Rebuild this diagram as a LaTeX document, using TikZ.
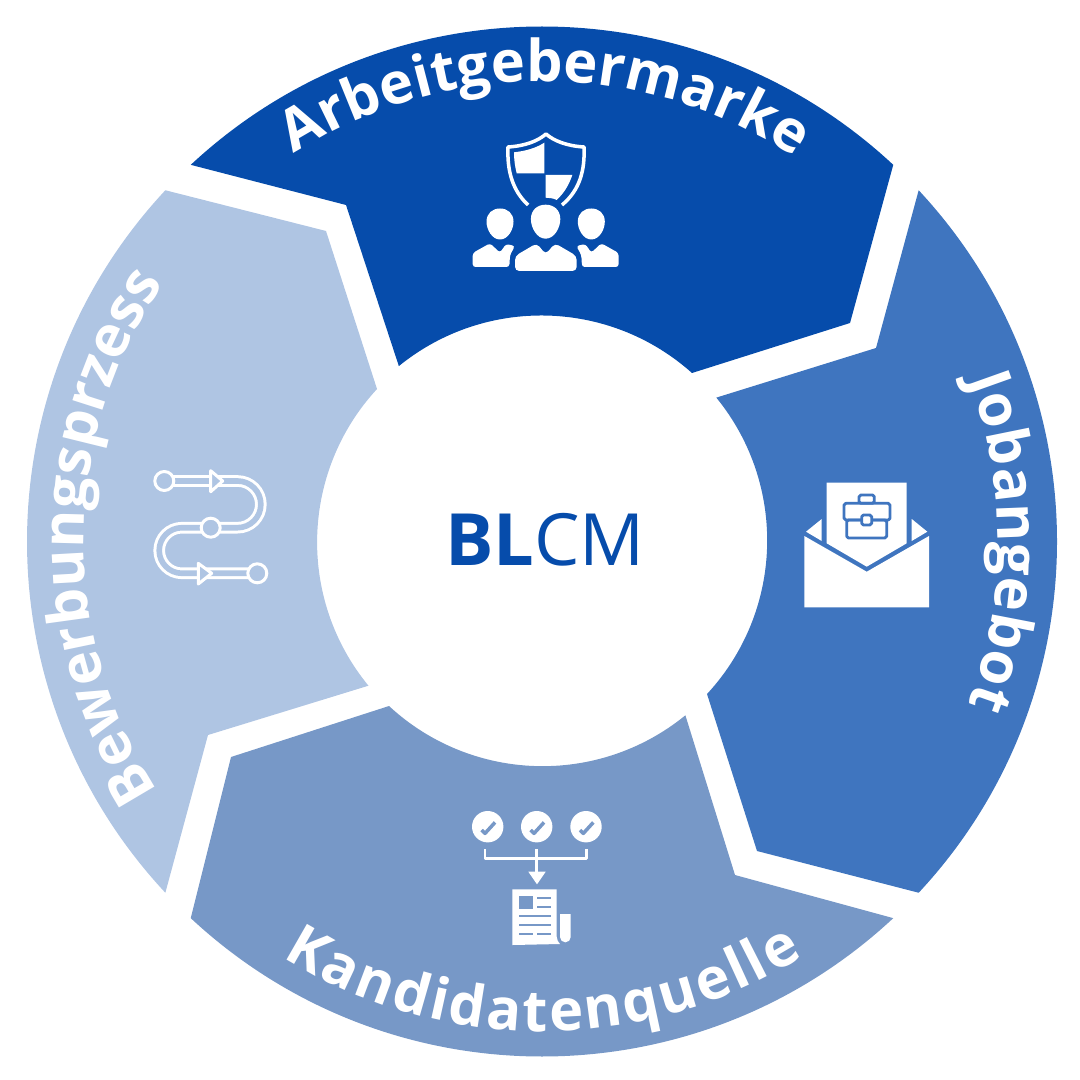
\documentclass[tikz,border=0pt]{standalone}
\usepackage{fontspec}
\setmainfont{Open Sans}
\usetikzlibrary{decorations.text}
\definecolor{segtop}{HTML}{064CAB}
\definecolor{segright}{HTML}{3F75BF}
\definecolor{segbottom}{HTML}{7798C7}
\definecolor{segleft}{HTML}{AFC5E3}
\newcommand{\ringfont}{\bfseries\fontsize{16.4}{20}\selectfont}
\begin{document}
\begin{tikzpicture}
[x=0.01cm, y=-0.01cm, line join=round,
ringlabel/.style={decorate, decoration={text along path, text align=fit to path, text color=white, text={|\ringfont|#1}}}
]
  \useasboundingbox (0,0) rectangle (1080,1080);
  \coordinate (c) at (542,541.5);

  \fill[segtop] (c) ++(-133:515) arc[start angle=-133, end angle=-47, radius=515]
    -- (850,323) -- (692,373) arc[start angle=-48.2, end angle=-129.1, radius=226] -- (346,205) -- cycle;
  \fill[segright] (c) ++(-43:515) arc[start angle=-43, end angle=43, radius=515]
    -- (757,851) -- (707,694) arc[start angle=42.8, end angle=-39.2, radius=226] -- (876,348) -- cycle;
  \fill[segbottom] (c) ++(47:515) arc[start angle=47, end angle=133, radius=515]
    -- (231,757) -- (389,706) arc[start angle=132.8, end angle=50.8, radius=226] -- (735,875) -- cycle;
  \fill[segleft] (c) ++(137:515) arc[start angle=137, end angle=223, radius=515]
    -- (326,231) -- (377,389) arc[start angle=222.7, end angle=140.6, radius=226] -- (208,735) -- cycle;

  \node[text=segtop, font=\fontsize{20.5}{24}\selectfont] (blcm) at (545,540) {{\bfseries BL}CM};

  \path[ringlabel=Arbeitgebermarke] (c) ++(-122.6:460) arc[start angle=-122.6, end angle=-57.2, radius=460];
  \path[ringlabel=Jobangebot] (c) ++(-20.8:456) arc[start angle=-20.8, end angle=21, radius=456];
  \path[ringlabel=Kandidatenquelle] (c) ++(122:490) arc[start angle=122, end angle=57.8, radius=490];
  \path[ringlabel=Bewerbungsprzess] (c) ++(147:458) arc[start angle=147, end angle=213.6, radius=458];

  \draw[white, line width=1pt] (528,205) .. controls (512,190) and (507,170) .. (508,147)
    .. controls (525,146) and (538,141) .. (546,134) .. controls (554,141) and (567,146) .. (584,147)
    .. controls (585,170) and (580,190) .. (562,205);
  \fill[white] (514,152.3) .. controls (526,151) and (536,148) .. (544.3,142.7) -- (544.3,173.3) -- (516.7,173.3) .. controls (515,167) and (514,160) .. (514,152.3) -- cycle;
  \fill[white] (545.7,175) -- (572.3,175) .. controls (569,185) and (564,193) .. (556.7,200) .. controls (553,198) and (549,198) .. (545.7,197.7) -- cycle;
  \foreach \hx/\hy/\rx/\ry in {500/224/13.5/15.5, 591.3/224/13.5/15.5, 545.6/221.7/14.7/17}
    \fill[white] (\hx,\hy+\ry) .. controls (\hx-0.6*\rx,\hy+\ry) and (\hx-\rx,\hy+0.35*\ry) .. (\hx-\rx,\hy-0.15*\ry)
      .. controls (\hx-\rx,\hy-0.7*\ry) and (\hx-0.55*\rx,\hy-\ry) .. (\hx,\hy-\ry)
      .. controls (\hx+0.55*\rx,\hy-\ry) and (\hx+\rx,\hy-0.7*\ry) .. (\hx+\rx,\hy-0.15*\ry)
      .. controls (\hx+\rx,\hy+0.35*\ry) and (\hx+0.6*\rx,\hy+\ry) .. (\hx,\hy+\ry) -- cycle;
  \fill[white, rounded corners=1.2pt] (515,271) -- (515,256) -- (536.7,243.3) -- (545.7,254.3) -- (555,243.3) -- (576.7,256) -- (576.7,271) -- cycle;
  \fill[white, rounded corners=0.8pt] (472.7,267) -- (472.7,253) -- (490,243.3) -- (500,252.7) -- (506,244) -- (515,246) -- (510,255) -- (509.3,267) -- cycle;
  \fill[white, rounded corners=0.8pt] (618.6,267) -- (618.6,253) -- (601.3,243.3) -- (591.3,252.7) -- (585.3,244) -- (576.3,246) -- (581.3,255) -- (582,267) -- cycle;

  \fill[white] (826.7,482.7) -- (906.7,482.7) -- (906.7,543.3) -- (866.7,566.7) -- (826.7,543.3) -- cycle;
  \fill[white] (804.3,536) -- (866.7,571.7) -- (929,536) -- (929,607.3) -- (804.3,607.3) -- cycle;
  \fill[white] (821.7,519) -- (806,531.7) -- (821.7,541) -- cycle;
  \fill[white] (911.7,519) -- (927.3,531.7) -- (911.7,541) -- cycle;
  \begin{scope}[draw=segright, line width=0.8pt, rounded corners=0.5pt]
    \draw (859,503.3) rectangle (874.3,495);
    \draw (844,503.3) rectangle (890,520);
    \draw (846.7,520) rectangle (886.7,538);
    \draw[fill=white] (861.7,515) rectangle (871.7,525);
  \end{scope}

  \foreach \cx in {487.7,536.7,586}{
    \fill[white] (\cx,826.7) circle[radius=15.7];
    \draw[segbottom, line width=1pt] (\cx-6,830) -- (\cx-2.7,833.4) -- (\cx+7.3,822.4);
  }
  \draw[white, line width=0.8pt] (485,849.3) -- (485,858.3) -- (586.7,858.3) -- (586.7,849.3);
  \draw[white, line width=0.8pt] (536.7,849.3) -- (536.7,872);
  \fill[white] (528.3,871.7) -- (545.7,871.7) -- (537,884.3) -- cycle;
  \fill[white] (512.3,889.3) -- (556.7,889.3) -- (556.7,936.7) .. controls (557,940) and (558,942) .. (560,944) -- (512.3,945) -- cycle;
  \fill[white] (560,914) -- (570.7,914) -- (570.7,937) arc[start angle=0, end angle=180, radius=5.35] -- cycle;
  \fill[segbottom] (519,896) rectangle (532.7,909.3);
  \draw[segbottom, line width=0.6pt] (537.3,898.3) -- (550.7,898.3) (537.3,907.3) -- (550.7,907.3)
    (519,916) -- (550.7,916) (519,925.3) -- (550.7,925.3)
    (519,934) -- (532.7,934) (537.3,934) -- (550.7,934);

  \draw[white, line width=3.3pt] (164.3,481) -- (237.5,481) arc[start angle=-90, end angle=90, radius=23.35]
    -- (182,527.7) arc[start angle=-90, end angle=-270, radius=22.8] -- (257.3,573.3);
  \draw[segleft, line width=1.6pt] (164.3,481) -- (237.5,481) arc[start angle=-90, end angle=90, radius=23.35]
    -- (182,527.7) arc[start angle=-90, end angle=-270, radius=22.8] -- (257.3,573.3);
  \foreach \px/\py in {164.3/481, 210.7/527.7, 257.3/573.3}
    \draw[white, fill=segleft, line width=0.85pt] (\px,\py) circle[radius=9.5];
  \draw[white, fill=segleft, line width=0.85pt] (210.7,470.7) -- (210.7,491.7) -- (222.7,481) -- cycle;
  \draw[white, fill=segleft, line width=0.85pt] (198.3,563.3) -- (198.3,584) -- (211.7,573.3) -- cycle;
\end{tikzpicture}
\end{document}
